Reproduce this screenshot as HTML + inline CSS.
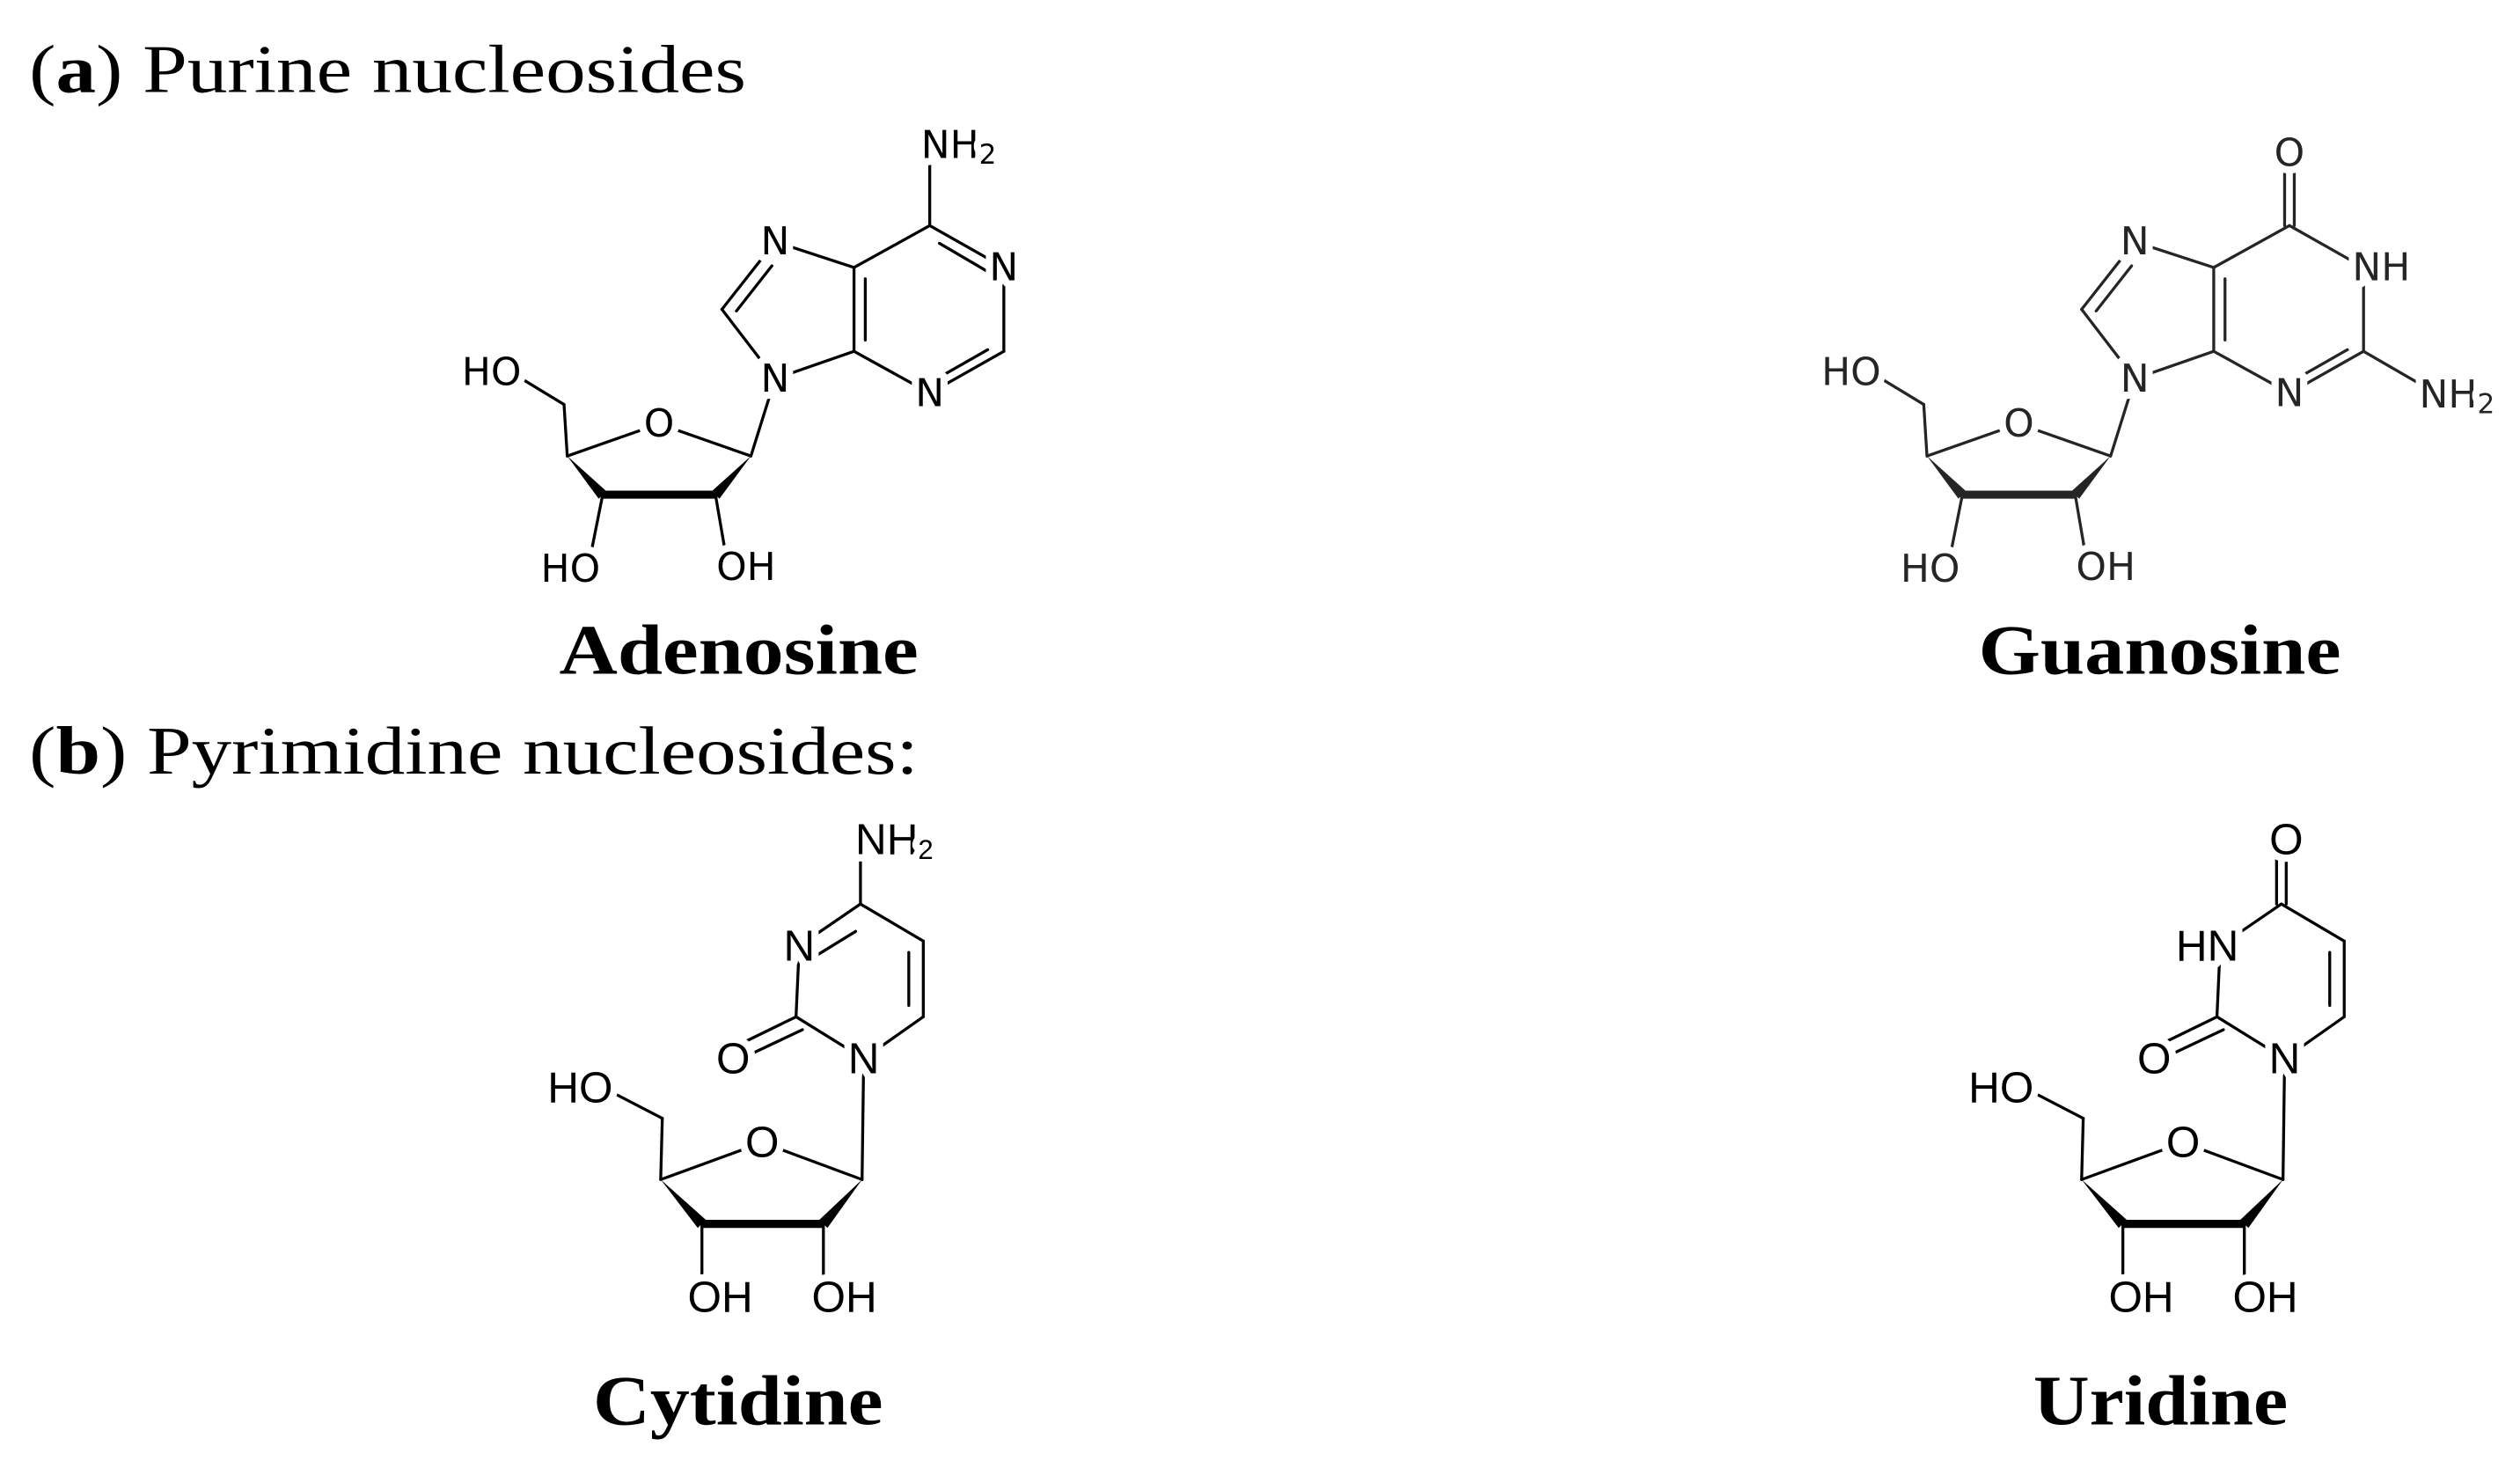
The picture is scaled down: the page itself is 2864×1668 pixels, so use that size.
<!DOCTYPE html>
<html><head><meta charset="utf-8"><style>
html,body{margin:0;padding:0;background:#fff}
svg{display:block}
.b line,.b polyline{stroke:#000;stroke-width:1.8;fill:none;stroke-linecap:round}
.t{font-family:"DejaVu Sans","Liberation Sans",sans-serif;font-size:24px;text-anchor:middle;dominant-baseline:central;fill:#000;stroke:#fff;stroke-width:9px;paint-order:stroke;stroke-linejoin:round}
.t2{font-family:"Liberation Sans",sans-serif;font-size:27px;text-anchor:middle;dominant-baseline:central;fill:#000;stroke:#fff;stroke-width:9px;paint-order:stroke;stroke-linejoin:round}
.sub{font-size:17px}
.h{font-family:"Liberation Serif",serif;font-size:42px;fill:#000}
.lab{font-family:"Liberation Serif",serif;font-size:44px;font-weight:bold;fill:#000}
</style></head><body>
<svg width="2864" height="1668" viewBox="0 0 1564 911" xmlns="http://www.w3.org/2000/svg">
<defs>
<g id="pur">
 <g class="b">
  <line x1="352" y1="283" x2="409" y2="263"/><line x1="409" y1="263" x2="466" y2="283"/>
  <line x1="352" y1="283" x2="350" y2="251"/><line x1="350" y1="251" x2="322" y2="234"/>
  <line x1="466" y1="283" x2="481" y2="235"/>
  <line x1="374" y1="307" x2="367" y2="342"/><line x1="444" y1="307" x2="450" y2="342"/>
  <line x1="374" y1="307" x2="444" y2="307" style="stroke-width:5;stroke-linecap:butt"/>
  <line x1="530" y1="166" x2="577" y2="140"/>
  <line x1="577" y1="140" x2="623" y2="166"/>
  <line x1="623" y1="166" x2="623" y2="218"/>
  <line x1="623" y1="218" x2="577" y2="244"/>
  <line x1="577" y1="244" x2="530" y2="218"/>
  <line x1="530" y1="218" x2="530" y2="166"/>
  <line x1="537" y1="211" x2="537" y2="173"/>
  <line x1="613" y1="217" x2="585" y2="233"/>
  <line x1="530" y1="166" x2="481" y2="150"/>
  <line x1="481" y1="150" x2="448" y2="192"/>
  <line x1="479" y1="165" x2="457" y2="193"/>
  <line x1="448" y1="192" x2="481" y2="235"/>
  <line x1="481" y1="235" x2="530" y2="218"/>
 </g>
 <polygon points="352,283 376.5,305 371.5,309.5" fill="#000"/>
 <polygon points="466,283 446.5,309.5 441.5,305" fill="#000"/>
 <circle cx="409" cy="263" r="11" fill="#fff"/>
 <text class="t" x="409" y="263">O</text>
 <text class="t" x="305" y="231">HO</text>
 <text class="t" x="354" y="353">HO</text>
 <text class="t" x="463" y="352">OH</text>
 <text class="t" x="481" y="150">N</text>
 <text class="t" x="481" y="235">N</text>
 <text class="t" x="577" y="244">N</text>
</g>
<g id="pyr">
 <g class="b">
  <line x1="410" y1="732" x2="473" y2="709"/><line x1="473" y1="709" x2="535" y2="732"/>
  <line x1="410" y1="732" x2="411" y2="694"/><line x1="411" y1="694" x2="382" y2="679"/>
  <line x1="535" y1="732" x2="536" y2="657"/>
  <line x1="435.6" y1="759.5" x2="435.6" y2="795"/><line x1="511" y1="759.5" x2="511" y2="795"/>
  <line x1="435.6" y1="759.5" x2="511" y2="759.5" style="stroke-width:5;stroke-linecap:butt"/>
  <line x1="534" y1="561" x2="496" y2="587"/>
  <line x1="496" y1="587" x2="494" y2="631"/>
  <line x1="494" y1="631" x2="536" y2="657"/>
  <line x1="536" y1="657" x2="573" y2="631"/>
  <line x1="573" y1="631" x2="573" y2="584"/>
  <line x1="573" y1="584" x2="534" y2="561"/>
  <line x1="564" y1="624" x2="564" y2="591"/>
  <line x1="494" y1="631" x2="455" y2="650"/>
  <line x1="498" y1="639" x2="462" y2="656"/>
 </g>
 <polygon points="410,732 438,757 433,762" fill="#000"/>
 <polygon points="535,732 513.5,762 508.5,757" fill="#000"/>
 <circle cx="473" cy="709" r="12" fill="#fff"/>
 <text class="t2" x="473" y="709">O</text>
 <text class="t2" x="360" y="675">HO</text>
 <text class="t2" x="447" y="805">OH</text>
 <text class="t2" x="524" y="805">OH</text>
 <text class="t2" x="536" y="657">N</text>
 <text class="t2" x="455" y="657">O</text>
</g>
</defs>

<text class="h" x="18" y="57" textLength="445" lengthAdjust="spacingAndGlyphs">(<tspan font-weight="bold">a</tspan>) Purine nucleosides</text>
<text class="h" x="18" y="480" textLength="552" lengthAdjust="spacingAndGlyphs">(<tspan font-weight="bold">b</tspan>) Pyrimidine nucleosides:</text>

<!-- Adenosine -->
<use href="#pur"/>
<g class="b">
 <line x1="577" y1="140" x2="577" y2="100"/>
 <line x1="583" y1="151" x2="612" y2="168"/>
</g>
<text class="t" x="623" y="166">N</text>
<text class="t" x="595" y="90">NH<tspan class="sub" dy="6">2</tspan></text>
<text class="lab" x="347" y="418" textLength="223" lengthAdjust="spacingAndGlyphs">Adenosine</text>

<!-- Guanosine -->
<g style="opacity:0.85">
<use href="#pur" x="844"/>
<g class="b">
 <line x1="1418" y1="140" x2="1418" y2="105"/>
 <line x1="1424" y1="140" x2="1424" y2="105"/>
 <line x1="1467" y1="218" x2="1505" y2="240"/>
</g>
<text class="t" x="1421" y="95">O</text>
<text class="t" x="1478" y="166">NH</text>
<text class="t" x="1525" y="245">NH<tspan class="sub" dy="6">2</tspan></text>
</g>
<text class="lab" x="1228" y="418" textLength="225" lengthAdjust="spacingAndGlyphs">Guanosine</text>

<!-- Cytidine -->
<use href="#pyr"/>
<g class="b">
 <line x1="534" y1="561" x2="534" y2="532"/>
 <line x1="531" y1="578" x2="505" y2="594"/>
</g>
<text class="t2" x="496" y="587">N</text>
<text class="t2" x="555" y="521">NH<tspan class="sub" dy="6">2</tspan></text>
<text class="lab" x="368" y="884" textLength="180" lengthAdjust="spacingAndGlyphs">Cytidine</text>

<!-- Uridine -->
<use href="#pyr" x="882"/>
<g class="b">
 <line x1="1413" y1="561" x2="1413" y2="532"/>
 <line x1="1419" y1="561" x2="1419" y2="532"/>
</g>
<text class="t2" x="1370" y="587">HN</text>
<text class="t2" x="1419" y="521">O</text>
<text class="lab" x="1262" y="884" textLength="158" lengthAdjust="spacingAndGlyphs">Uridine</text>
</svg>
</body></html>
